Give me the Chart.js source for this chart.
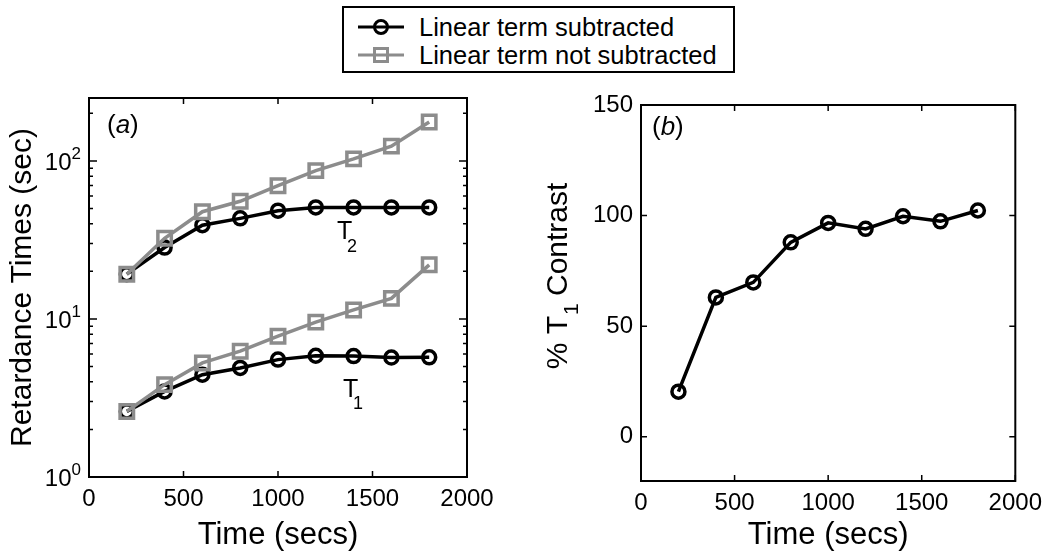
<!DOCTYPE html>
<html>
<head>
<meta charset="utf-8">
<script src="https://cdn.jsdelivr.net/npm/chart.js"></script>
<style>
  body { margin: 0; background: #fff; width: 1050px; height: 556px; overflow: hidden; position: relative;
         font-family: "Liberation Sans", Arial, Helvetica, sans-serif; }
  canvas { position: absolute; top: 0; }
  #chartA { left: 0; }
  #chartB { left: 525px; }
  #legend { position: absolute; left: 342px; top: 6px; width: 389px; height: 63px;
            border: 2px solid #000; background: #fff; }
  .row { position: absolute; left: 14px; height: 28px; display: flex; align-items: center;
         font-size: 25.5px; color: #000; white-space: nowrap; }
  .row svg { margin-right: 15px; }
</style>
</head>
<body>
<div id="legend"></div>
<canvas id="chartA" width="525" height="556"></canvas>
<canvas id="chartB" width="525" height="556"></canvas>
<script>
const FONT = '"Liberation Sans", Arial, Helvetica, sans-serif';
const GRAY = '#8c8c8c';

// data
const times = [200, 400, 600, 800, 1000, 1200, 1400, 1600, 1800];
const seriesNames = ['Linear term subtracted', 'Linear term not subtracted'];
const t2Sub   = [19.2, 28.3, 39.2, 43.3, 48.4, 50.8, 50.8, 50.8, 50.8];
const t2NoSub = [19.2, 32.4, 47.7, 55.5, 69.7, 86.8, 103, 124, 176];
const t1Sub   = [2.60, 3.48, 4.44, 4.90, 5.53, 5.85, 5.82, 5.70, 5.72];
const t1NoSub = [2.60, 3.84, 5.27, 6.25, 7.78, 9.55, 11.4, 13.5, 22.0];
const contrast = [20.4, 63.0, 69.8, 87.9, 96.7, 94.0, 99.7, 97.4, 102.3];
const xTicks = [0, 500, 1000, 1500, 2000];
const logTicks = [1, 10, 100];
const logExps = ['0', '1', '2'];
const contrastTicks = [0, 50, 100, 150];

function pairs(ys) { return times.map((t, i) => ({ x: t, y: ys[i] })); }

// legend (shared by both panels)
const icons = [
  '<svg width="46" height="20"><line x1="0" y1="10" x2="46" y2="10" stroke="#000" stroke-width="3"/><circle cx="23" cy="10" r="6.5" fill="none" stroke="#000" stroke-width="3"/></svg>',
  '<svg width="46" height="20"><line x1="0" y1="10" x2="46" y2="10" stroke="' + GRAY + '" stroke-width="3"/><rect x="16.5" y="3.5" width="13" height="13" fill="none" stroke="' + GRAY + '" stroke-width="3"/></svg>'
];
const legend = document.getElementById('legend');
seriesNames.forEach((name, i) => {
  const row = document.createElement('div');
  row.className = 'row';
  row.style.top = (5 + i * 28) + 'px';
  row.innerHTML = icons[i] + '<span>' + name + '</span>';
  legend.appendChild(row);
});

function blackSet(label, ys) {
  return { label: label, data: pairs(ys), borderColor: '#000', borderWidth: 3.5, pointStyle: 'circle',
           pointRadius: 6.5, pointBorderWidth: 3.5, pointBorderColor: '#000', pointBackgroundColor: 'transparent', order: 2 };
}
function graySet(label, ys) {
  return { label: label, data: pairs(ys), borderColor: GRAY, borderWidth: 3.5, pointStyle: 'rect',
           pointRadius: 9.5, pointBorderWidth: 3.5, pointBorderColor: GRAY, pointBackgroundColor: 'transparent', order: 1 };
}

// box round the plot with inward ticks on all four sides
const frameTicks = {
  id: 'frameTicks',
  afterDatasetsDraw(chart) {
    const { ctx, chartArea: a, scales: { x, y } } = chart;
    ctx.save();
    ctx.strokeStyle = '#000';
    ctx.lineWidth = 2;
    ctx.strokeRect(a.left, a.top, a.right - a.left, a.bottom - a.top);
    ctx.beginPath();
    x.ticks.forEach(t => {
      const px = x.getPixelForValue(t.value);
      ctx.moveTo(px, a.bottom); ctx.lineTo(px, a.bottom - 6);
      ctx.moveTo(px, a.top); ctx.lineTo(px, a.top + 6);
    });
    const isLog = y.type === 'logarithmic';
    y.ticks.forEach(t => {
      const py = y.getPixelForValue(t.value);
      const len = isLog ? 8 : 6;
      ctx.moveTo(a.left, py); ctx.lineTo(a.left + len, py);
      ctx.moveTo(a.right, py); ctx.lineTo(a.right - len, py);
    });
    if (isLog) {
      for (let d = 1; d <= 100; d *= 10) {
        for (let k = 2; k <= 9; k++) {
          const v = d * k;
          if (v > y.max) break;
          const py = y.getPixelForValue(v);
          ctx.moveTo(a.left, py); ctx.lineTo(a.left + 4, py);
          ctx.moveTo(a.right, py); ctx.lineTo(a.right - 4, py);
        }
      }
    }
    ctx.lineWidth = 1.5;
    ctx.stroke();
    ctx.restore();
  }
};

function subText(ctx, x, y, main, sub, size, subSize, dx, dy) {
  ctx.font = size + 'px ' + FONT;
  ctx.fillText(main, x, y);
  const w = ctx.measureText(main).width;
  ctx.font = subSize + 'px ' + FONT;
  ctx.fillText(sub, x + w * dx, y + dy);
}

function panelLetter(ctx, x, y, letter) {
  ctx.font = '26px ' + FONT;
  ctx.fillText('(', x, y);
  let w = ctx.measureText('(').width;
  ctx.font = 'italic 26px ' + FONT;
  ctx.fillText(letter, x + w, y);
  w += ctx.measureText(letter).width;
  ctx.font = '26px ' + FONT;
  ctx.fillText(')', x + w, y);
}

const labelsA = {
  id: 'labelsA',
  afterDraw(chart) {
    const { ctx, chartArea: a, scales: { x, y } } = chart;
    ctx.save();
    ctx.fillStyle = '#000';
    ctx.textAlign = 'left';
    ctx.textBaseline = 'alphabetic';
    panelLetter(ctx, a.left + 18, a.top + 35, 'a');
    subText(ctx, x.getPixelForValue(1312), y.getPixelForValue(32), 'T', '2', 25, 18, 0.65, 13);
    subText(ctx, x.getPixelForValue(1344), y.getPixelForValue(3.22), 'T', '1', 25, 18, 0.65, 12);
    // log tick labels 10^n with real superscripts
    logTicks.forEach((v, i) => {
      const py = y.getPixelForValue(v);
      ctx.font = '17px ' + FONT;
      const we = ctx.measureText(logExps[i]).width;
      const ex = a.left - 8 - we;
      ctx.fillText(logExps[i], ex, py - 2);
      ctx.font = '24px ' + FONT;
      ctx.textAlign = 'right';
      ctx.fillText('10', ex, py + 9);
      ctx.textAlign = 'left';
    });
    ctx.restore();
  }
};

const labelsB = {
  id: 'labelsB',
  afterDraw(chart) {
    const { ctx, chartArea: a } = chart;
    ctx.save();
    ctx.fillStyle = '#000';
    ctx.textAlign = 'left';
    ctx.textBaseline = 'alphabetic';
    panelLetter(ctx, a.left + 11, a.top + 30, 'b');
    // rotated y title with subscript
    ctx.translate(42, 276);
    ctx.rotate(-Math.PI / 2);
    ctx.font = '30px ' + FONT;
    const p1 = '% T', p3 = ' Contrast';
    const w1 = ctx.measureText(p1).width;
    const w3 = ctx.measureText(p3).width;
    ctx.font = '21px ' + FONT;
    const w2 = ctx.measureText('1').width;
    let sx = -(w1 + w2 + w3) / 2;
    ctx.font = '30px ' + FONT;
    ctx.fillText(p1, sx, 0);
    ctx.font = '21px ' + FONT;
    ctx.fillText('1', sx + w1 + 1, 11);
    ctx.font = '30px ' + FONT;
    ctx.fillText(p3, sx + w1 + w2, 0);
    ctx.restore();
  }
};

function xScale(height) {
  return {
    type: 'linear', min: 0, max: 2000,
    afterBuildTicks: s => { s.ticks = xTicks.map(v => ({ value: v })); },
    afterFit: s => { s.height = height; },
    grid: { display: false, drawTicks: false },
    border: { display: false },
    ticks: { color: '#000', font: { family: FONT, size: 24 }, padding: 8, maxRotation: 0,
             callback: v => String(v) },
    title: { display: true, text: 'Time (secs)', color: '#000', font: { family: FONT, size: 31 }, padding: { top: 0, bottom: 2 } }
  };
}

new Chart(document.getElementById('chartA'), {
  type: 'line',
  data: {
    datasets: [
      blackSet(seriesNames[0] + ' T2', t2Sub),
      graySet(seriesNames[1] + ' T2', t2NoSub),
      blackSet(seriesNames[0] + ' T1', t1Sub),
      graySet(seriesNames[1] + ' T1', t1NoSub)
    ]
  },
  options: {
    responsive: false, animation: false,
    layout: { padding: { top: 98, right: 58, left: 0, bottom: 0 } },
    plugins: { legend: { display: false }, tooltip: { enabled: false } },
    scales: {
      x: xScale(79),
      y: {
        type: 'logarithmic', min: 1, max: 250,
        afterBuildTicks: s => { s.ticks = logTicks.map(v => ({ value: v })); },
        afterFit: s => { s.width = 89; },
        grid: { display: false, drawTicks: false },
        border: { display: false },
        ticks: { display: true, color: 'rgba(0,0,0,0)', font: { family: FONT, size: 24 }, padding: 8,
                 callback: () => '' },
        title: { display: true, text: 'Retardance Times (sec)', color: '#000', font: { family: FONT, size: 30 }, padding: { top: 5, bottom: 0 } }
      }
    }
  },
  plugins: [frameTicks, labelsA]
});

new Chart(document.getElementById('chartB'), {
  type: 'line',
  data: {
    datasets: [ blackSet('% T1 Contrast', contrast) ]
  },
  options: {
    responsive: false, animation: false,
    layout: { padding: { top: 105, right: 32, left: 0, bottom: 0 } },
    plugins: { legend: { display: false }, tooltip: { enabled: false } },
    scales: {
      x: xScale(75),
      y: {
        type: 'linear', min: -20, max: 150,
        afterBuildTicks: s => { s.ticks = contrastTicks.map(v => ({ value: v })); },
        afterFit: s => { s.width = 116; },
        grid: { display: false, drawTicks: false },
        border: { display: false },
        ticks: { color: '#000', font: { family: FONT, size: 24 }, padding: 8 }
      }
    }
  },
  plugins: [frameTicks, labelsB]
});
</script>
</body>
</html>
